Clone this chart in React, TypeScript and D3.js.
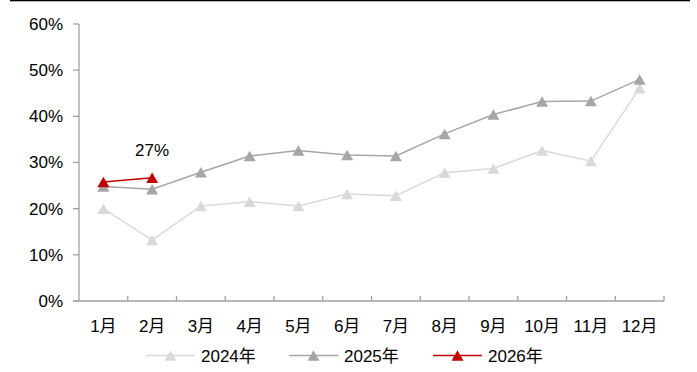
import React from "react";
import * as d3 from "d3";

const months = ["1月", "2月", "3月", "4月", "5月", "6月", "7月", "8月", "9月", "10月", "11月", "12月"];
const values2024 = [0.200, 0.132, 0.206, 0.215, 0.206, 0.232, 0.228, 0.278, 0.287, 0.326, 0.303, 0.461];
const values2025 = [0.248, 0.242, 0.279, 0.314, 0.326, 0.316, 0.314, 0.362, 0.404, 0.432, 0.433, 0.480];
const values2026 = [0.258, 0.267];
const yTicks = [0, 0.1, 0.2, 0.3, 0.4, 0.5, 0.6];
const seriesNames = ["2024年", "2025年", "2026年"];
const seriesColors = ["#d9d9d9", "#a6a6a6", "#c00000"];

const W = 697;
const H = 372;
const M = { left: 79, right: 664, top: 24, bottom: 301 };
const FONT = "'Liberation Sans', Arial, 'Noto Sans CJK SC', sans-serif";
const FS = 17;

const x = d3.scaleBand<string>().domain(months).range([M.left, M.right]).padding(0);
const y = d3.scaleLinear().domain([0, 0.6]).range([M.bottom, M.top]);
const cx = (m: string) => (x(m) ?? 0) + x.bandwidth() / 2;

const tri = (px: number, py: number, w = 12, h = 10.5) =>
  `M${px - w / 2},${py + h / 2}L${px + w / 2},${py + h / 2}L${px},${py - h / 2}Z`;

const line = d3
  .line<[string, number]>()
  .x((d) => cx(d[0]))
  .y((d) => y(d[1]));

function Series({ vals, color }: { vals: number[]; color: string }) {
  const pts = vals.map((v, i) => [months[i], v] as [string, number]);
  return (
    <g>
      <path d={line(pts) ?? ""} fill="none" stroke={color} strokeWidth={1.5} />
      {pts.map((p, i) => (
        <path key={i} d={tri(cx(p[0]), y(p[1]))} fill={color} />
      ))}
    </g>
  );
}

export default function App() {
  const all = [values2024, values2025, values2026];
  const legendX = [146, 289, 433];
  const legendY = 355.5;
  const fmt = d3.format(".0%");
  const last = values2026.length - 1;
  return (
    <svg
      width={W}
      height={H}
      style={{ position: "absolute", left: 0, top: 0, background: "#fff" }}
      fontFamily={FONT}
    >
      <rect x={10} y={0} width={680} height={1.3} fill="#000" />

      {/* y axis */}
      <line x1={M.left} x2={M.left} y1={y(0.6)} y2={M.bottom} stroke="#a0a0a0" strokeWidth={1.3} />
      {yTicks.map((t) => (
        <g key={t}>
          <line x1={M.left - 6} x2={M.left} y1={y(t)} y2={y(t)} stroke="#a0a0a0" strokeWidth={1.3} />
          <text x={M.left - 16} y={y(t)} dy="0.35em" textAnchor="end" fontSize={FS} fill="#000">
            {d3.format(".0%")(t)}
          </text>
        </g>
      ))}

      {/* x axis */}
      <line x1={M.left - 6} x2={M.right} y1={M.bottom} y2={M.bottom} stroke="#a0a0a0" strokeWidth={1.3} />
      {months.map((m, i) => (
        <line
          key={"t" + i}
          x1={(x(m) ?? 0) + x.bandwidth()}
          x2={(x(m) ?? 0) + x.bandwidth()}
          y1={M.bottom}
          y2={M.bottom - 5}
          stroke="#a0a0a0"
          strokeWidth={1.3}
        />
      ))}
      {months.map((m) => (
        <text key={m} x={cx(m)} y={332} textAnchor="middle" fontSize={FS} fill="#000">
          {m}
        </text>
      ))}

      {all.map((vals, i) => (
        <Series key={i} vals={vals} color={seriesColors[i]} />
      ))}

      <text x={cx(months[last])} y={156} textAnchor="middle" fontSize={FS} fill="#000">
        {fmt(values2026[last])}
      </text>

      {/* legend */}
      {seriesNames.map((name, i) => (
        <g key={name}>
          <line
            x1={legendX[i]}
            x2={legendX[i] + 49}
            y1={legendY}
            y2={legendY}
            stroke={seriesColors[i]}
            strokeWidth={1.5}
          />
          <path d={tri(legendX[i] + 24.5, legendY)} fill={seriesColors[i]} />
          <text x={legendX[i] + 55} y={legendY} dy="0.36em" fontSize={FS} fill="#000">
            {name}
          </text>
        </g>
      ))}
    </svg>
  );
}
